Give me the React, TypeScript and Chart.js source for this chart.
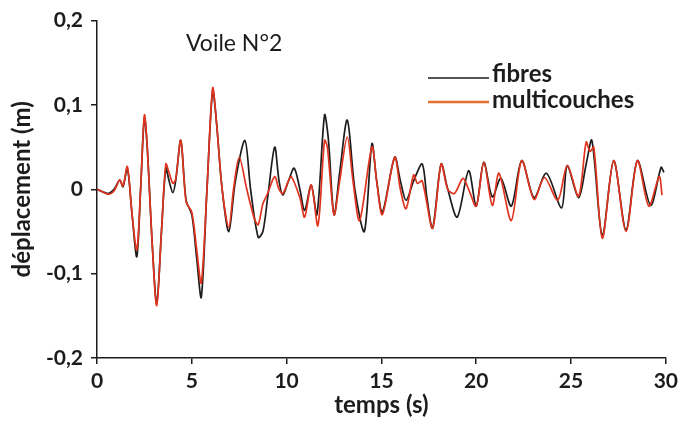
import React, { useEffect, useRef } from 'react';
import { Chart, registerables } from 'chart.js';

Chart.register(...registerables);

// ---- data (time in s, displacement in m) ----
const fibresT = [0, 0.3, 0.6, 0.9, 1.2, 1.37, 1.6, 1.85, 2.1, 2.3, 2.5, 2.65, 2.9, 3.15, 3.4, 3.63, 3.8, 4.0, 4.15, 4.42, 4.7, 5.0, 5.25, 5.5, 5.8, 6.1, 6.3, 6.6, 6.95, 7.3, 7.8, 8.1, 8.5, 8.75, 9.0, 9.37, 9.6, 9.8, 10.1, 10.4, 10.7, 10.95, 11.3, 11.6, 12.0, 12.2, 12.5, 12.8, 13.2, 13.6, 14.1, 14.5, 14.75, 15.05, 15.7, 16.0, 16.3, 16.7, 17.15, 17.4, 17.7, 18.15, 18.5, 19.0, 19.6, 20.0, 20.4, 20.85, 21.3, 21.85, 22.4, 23.05, 23.7, 24.5, 24.8, 25.4, 25.8, 26.1, 26.65, 27.25, 27.9, 28.5, 29.2, 29.75, 29.9];
const fibresV = [0, -0.003, -0.005, 0.0, 0.011, 0.003, 0.025, -0.03, -0.08, 0.0, 0.085, 0.05, -0.06, -0.135, -0.05, 0.025, 0.01, -0.004, 0.01, 0.058, -0.013, -0.03, -0.08, -0.128, 0.0, 0.117, 0.08, 0.0, -0.05, 0.01, 0.058, 0.0, -0.057, -0.05, -0.01, 0.05, 0.01, -0.007, 0.01, 0.025, 0.0, -0.025, 0.005, -0.03, 0.088, 0.06, -0.03, 0.02, 0.082, 0.0, -0.05, 0.054, 0.01, -0.027, 0.038, 0.01, -0.013, 0.01, 0.03, -0.01, -0.046, 0.03, 0.0, -0.033, 0.022, -0.02, 0.032, -0.009, 0.013, -0.02, 0.034, -0.01, 0.019, -0.022, 0.028, -0.01, 0.03, 0.058, -0.055, 0.034, -0.048, 0.034, -0.019, 0.026, 0.02];

const multiT = [0, 0.3, 0.6, 0.9, 1.2, 1.37, 1.6, 1.85, 2.1, 2.3, 2.5, 2.65, 2.9, 3.15, 3.4, 3.63, 3.8, 4.0, 4.15, 4.42, 4.7, 5.0, 5.25, 5.5, 5.8, 6.1, 6.3, 6.6, 6.95, 7.2, 7.5, 7.9, 8.3, 8.5, 8.75, 9.0, 9.37, 9.6, 9.8, 10.1, 10.25, 10.7, 10.95, 11.3, 11.65, 12.0, 12.15, 12.5, 12.8, 13.2, 13.5, 13.85, 14.5, 14.75, 15.05, 15.7, 16.0, 16.3, 16.7, 16.9, 17.15, 17.7, 18.15, 18.5, 18.85, 19.3, 19.6, 20.0, 20.4, 20.85, 21.2, 21.85, 22.4, 23.05, 23.6, 24.3, 24.8, 25.4, 25.8, 26.0, 26.2, 26.65, 27.25, 27.9, 28.5, 29.1, 29.65, 29.8];
const multiV = [0, -0.003, -0.006, -0.002, 0.011, 0.004, 0.027, -0.03, -0.072, 0.0, 0.088, 0.05, -0.06, -0.138, -0.05, 0.03, 0.02, 0.007, 0.012, 0.058, -0.015, -0.027, -0.07, -0.111, 0.0, 0.12, 0.08, 0.0, -0.045, 0.0, 0.038, 0.0, -0.035, -0.042, -0.017, -0.005, 0.015, 0.0, -0.005, 0.01, 0.015, -0.01, -0.033, 0.005, -0.043, 0.058, 0.05, -0.03, 0.01, 0.062, 0.01, -0.037, 0.05, 0.01, -0.03, 0.038, 0.0, -0.023, 0.017, 0.007, 0.01, -0.046, 0.03, 0.0, -0.005, 0.013, 0.0, -0.02, 0.032, -0.019, 0.019, -0.037, 0.034, -0.012, 0.014, -0.013, 0.028, -0.008, 0.056, 0.045, 0.05, -0.058, 0.034, -0.05, 0.034, -0.02, 0.015, -0.007];

const seriesNames = ['fibres', 'multicouches'];
const xTicks = [0, 5, 10, 15, 20, 25, 30];
const yTicks = [-0.2, -0.1, 0, 0.1, 0.2];
const yTickLabels = ['-0,2', '-0,1', '0', '0,1', '0,2'];
const chartTitle = 'Voile N°2';
const xTitle = 'temps (s)';
const yTitle = 'déplacement (m)';

const BLACK = '#1c1c1c';
const RED = '#e0341f';
const LEGEND_ORANGE = '#e2712f';
const FONT = 'Lato';

const overlayPlugin = {
  id: 'overlay',
  afterDraw(chart: any) {
    const { ctx, chartArea: a } = chart;
    ctx.save();
    ctx.textBaseline = 'middle';
    ctx.textAlign = 'left';
    ctx.fillStyle = BLACK;
    ctx.font = `23px ${FONT}`;
    ctx.fillText(chartTitle, a.left + 89, 44);

    const lx0 = a.left + 331;
    const lx1 = a.left + 392;
    const tx = a.left + 395;
    // fibres
    ctx.strokeStyle = BLACK;
    ctx.lineWidth = 1.5;
    ctx.beginPath();
    ctx.moveTo(lx0, 78);
    ctx.lineTo(lx1, 78);
    ctx.stroke();
    // multicouches
    ctx.strokeStyle = LEGEND_ORANGE;
    ctx.lineWidth = 2.5;
    ctx.beginPath();
    ctx.moveTo(lx0, 102);
    ctx.lineTo(lx1, 102);
    ctx.stroke();

    ctx.font = `bold 24px ${FONT}`;
    ctx.fillStyle = BLACK;
    ctx.fillText(seriesNames[0], tx, 74);
    ctx.fillText(seriesNames[1], tx, 100);
    ctx.restore();
  },
};

export default function App() {
  const ref = useRef<HTMLCanvasElement | null>(null);

  useEffect(() => {
    document.body.style.margin = '0';
    const canvas = ref.current;
    if (!canvas) return;
    const chart = new Chart(canvas, {
      type: 'line',
      data: {
        datasets: [
          {
            label: seriesNames[0],
            data: fibresT.map((t, i) => ({ x: t, y: fibresV[i] })),
            borderColor: BLACK,
            borderWidth: 1.7,
            pointRadius: 0,
            tension: 0.3,
            fill: false,
            order: 2,
          },
          {
            label: seriesNames[1],
            data: multiT.map((t, i) => ({ x: t, y: multiV[i] })),
            borderColor: RED,
            borderWidth: 1.7,
            pointRadius: 0,
            tension: 0.3,
            fill: false,
            order: 1,
          },
        ],
      },
      options: {
        animation: false,
        responsive: false,
        devicePixelRatio: 1,
        layout: { padding: { left: 4, right: 16, top: 18, bottom: 19 } },
        plugins: {
          legend: { display: false },
          tooltip: { enabled: false },
          title: { display: false },
        },
        scales: {
          x: {
            type: 'linear',
            min: 0,
            max: 30,
            afterBuildTicks: (s: any) => {
              s.ticks = xTicks.map((v) => ({ value: v }));
            },
            afterFit: (s: any) => {
              s.height = 66;
            },
            grid: {
              drawOnChartArea: false,
              drawTicks: true,
              tickLength: 6,
              color: BLACK,
              lineWidth: 1.5,
            },
            border: { display: true, color: BLACK, width: 1.5 },
            ticks: {
              color: BLACK,
              font: { family: FONT, size: 21, weight: 'bold' },
              padding: 5,
              maxRotation: 0,
              callback: (v: any) => String(v),
            },
            title: {
              display: true,
              text: xTitle,
              color: BLACK,
              font: { family: FONT, size: 24, weight: 'bold' },
              padding: { top: 4, bottom: 4 },
            },
          },
          y: {
            type: 'linear',
            min: -0.2,
            max: 0.2,
            afterBuildTicks: (s: any) => {
              s.ticks = yTicks.map((v) => ({ value: v }));
            },
            afterFit: (s: any) => {
              s.width = 93;
            },
            grid: {
              drawOnChartArea: false,
              drawTicks: true,
              tickLength: 6,
              color: BLACK,
              lineWidth: 1.5,
            },
            border: { display: true, color: BLACK, width: 1.5 },
            ticks: {
              color: BLACK,
              font: { family: FONT, size: 21, weight: 'bold' },
              padding: 8,
              callback: (v: any) => {
                const i = yTicks.findIndex((t) => Math.abs(t - v) < 1e-9);
                return i >= 0 ? yTickLabels[i] : '';
              },
            },
            title: {
              display: true,
              text: yTitle,
              color: BLACK,
              font: { family: FONT, size: 24, weight: 'bold' },
              padding: { top: 4, bottom: 4 },
            },
          },
        },
      },
      plugins: [overlayPlugin],
    } as any);
    return () => chart.destroy();
  }, []);

  return (
    <div style={{ width: 683, height: 443, background: '#fff' }}>
      <canvas ref={ref} width={683} height={443} style={{ display: 'block' }} />
    </div>
  );
}
